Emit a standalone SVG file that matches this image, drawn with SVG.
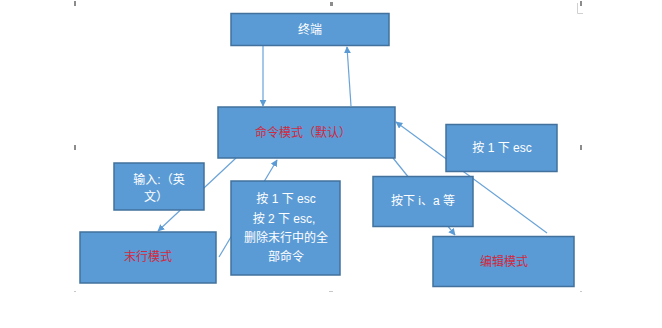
<svg xmlns="http://www.w3.org/2000/svg" width="662" height="328" viewBox="0 0 662 328">
  <style>
    .box { fill: #5b9bd5; stroke: #41719c; stroke-width: 1.5; }
    .lbl { fill: #ffffff; font-family: "Liberation Sans", "Noto Sans CJK SC", sans-serif; font-size: 12px; text-anchor: middle; dominant-baseline: central; }
    .mode { fill: #d0283e; }
    .conn { stroke: #6aa3d8; stroke-width: 1.2; fill: none; }
    .mark { fill: #8c8c8c; }
  </style>
  <defs>
    <marker id="arrow" viewBox="0 0 10 10" refX="9" refY="5" markerWidth="7" markerHeight="7" markerUnits="userSpaceOnUse" orient="auto">
      <path d="M0,0 L10,5 L0,10 z" fill="#5b9bd5"/>
    </marker>
  </defs>
  <rect width="662" height="328" fill="#ffffff"/>

  <!-- page margin marks -->
  <g id="margins">
    <rect class="mark" x="74" y="1" width="2" height="5"/>
    <rect class="mark" x="330" y="2" width="3" height="4"/>
    <rect class="mark" x="580" y="1" width="2" height="5"/>
    <path d="M577.5,3 V13.5 H583" stroke="#d0d0d0" stroke-width="1" fill="none"/>
    <rect class="mark" x="74" y="145" width="2" height="5"/>
    <rect class="mark" x="580" y="145" width="2" height="5"/>
    <rect x="74" y="291" width="2" height="1" fill="#c8c8c8"/>
    <rect x="329" y="291" width="4" height="1" fill="#c8c8c8"/>
    <rect x="580" y="291" width="2" height="1" fill="#c8c8c8"/>
  </g>

  <!-- connectors -->
  <g id="connectors">
    <line class="conn" x1="263" y1="46" x2="263" y2="106" marker-end="url(#arrow)"/>
    <line class="conn" x1="351" y1="106" x2="347" y2="47" marker-end="url(#arrow)"/>
    <line class="conn" x1="236" y1="158" x2="158" y2="231" marker-end="url(#arrow)"/>
    <line class="conn" x1="219" y1="257" x2="277" y2="160" marker-end="url(#arrow)"/>
    <line class="conn" x1="393" y1="158" x2="455" y2="235" marker-end="url(#arrow)"/>
    <line class="conn" x1="547" y1="233" x2="396" y2="122" marker-end="url(#arrow)"/>
  </g>

  <g id="terminal">
    <rect class="box" x="231" y="13.5" width="158" height="32"/>
    <text class="lbl" x="310" y="30">终端</text>
  </g>

  <g id="command-mode">
    <rect class="box" x="218" y="107" width="177" height="51"/>
    <text class="lbl mode" x="303" y="133">命令模式（默认）</text>
  </g>

  <g id="esc-once">
    <rect class="box" x="446" y="124.5" width="111" height="47"/>
    <text class="lbl" x="502" y="148">按 1 下 esc</text>
  </g>

  <g id="input-english">
    <rect class="box" x="114" y="163" width="90" height="47"/>
    <text class="lbl" x="159" y="180">输入:（英</text>
    <text class="lbl" x="156" y="197">文）</text>
  </g>

  <g id="esc-keys">
    <rect class="box" x="231" y="181" width="109" height="94"/>
    <text class="lbl" x="286" y="199">按 1 下 esc</text>
    <text class="lbl" x="284" y="219">按 2 下 esc,</text>
    <text class="lbl" x="286" y="238">删除末行中的全</text>
    <text class="lbl" x="286" y="257">部命令</text>
  </g>

  <g id="press-i-a">
    <rect class="box" x="373" y="176.5" width="100" height="50"/>
    <text class="lbl" x="423" y="201">按下 i、a 等</text>
  </g>

  <g id="last-line-mode">
    <rect class="box" x="80" y="232" width="136" height="51"/>
    <text class="lbl mode" x="148" y="257">末行模式</text>
  </g>

  <g id="edit-mode">
    <rect class="box" x="433" y="236.5" width="141" height="50"/>
    <text class="lbl mode" x="504" y="262">编辑模式</text>
  </g>
</svg>
